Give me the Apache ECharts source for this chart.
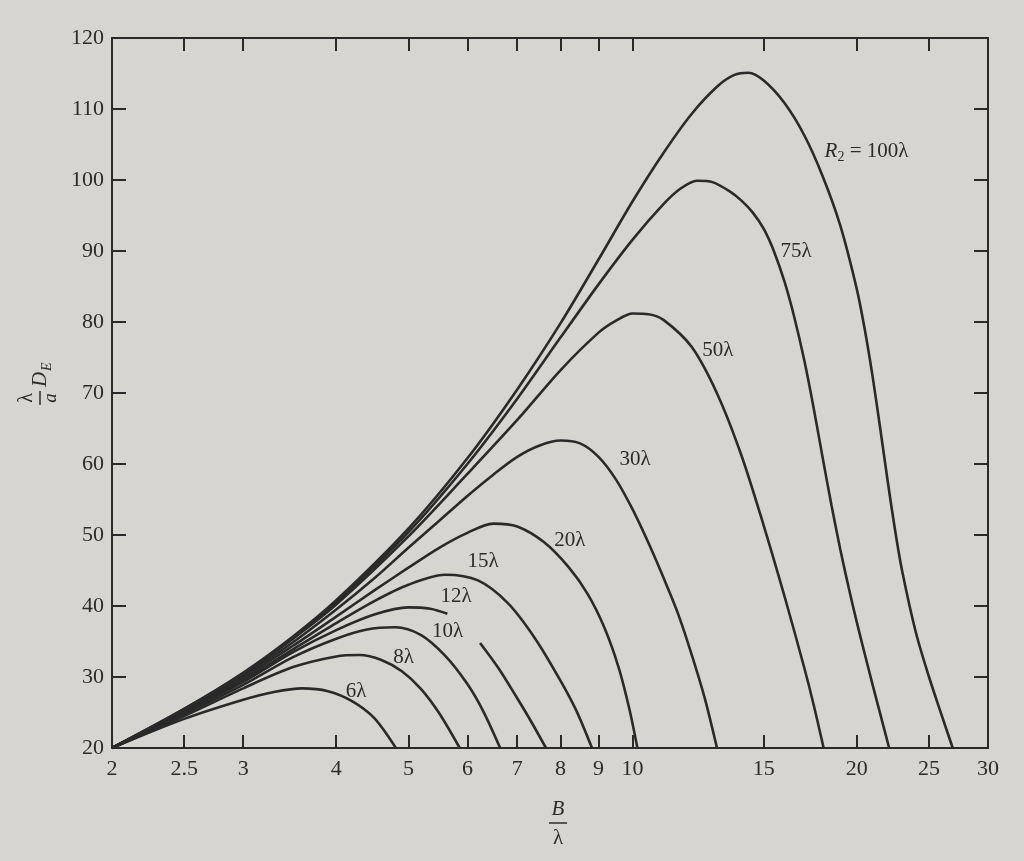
<!DOCTYPE html>
<html>
<head>
<meta charset="utf-8">
<script src="https://cdn.jsdelivr.net/npm/echarts@6/dist/echarts.min.js"></script>
<style>
  html, body { margin: 0; padding: 0; background: #d7d5d1; }
  #chart { width: 1024px; height: 861px; }
</style>
</head>
<body>
<div id="chart"></div>
<script>
// tick values on the B/lambda axis
var xTicks = [2, 2.5, 3, 4, 5, 6, 7, 8, 9, 10, 15, 20, 25, 30];

// curve names, one per R2
var curveNames = ['6λ', '8λ', '10λ', '12λ', '15λ', '20λ', '30λ', '50λ', '75λ', 'R2 = 100λ'];

// [B/λ, λ/a·D_E]
var r6 = [[2, 20], [2.5, 24.1], [3, 26.8], [3.3, 27.9], [3.6, 28.4], [3.9, 28.0], [4.2, 26.6], [4.5, 24.2], [4.81, 20]];
var r8 = [[2, 20], [2.5, 24.5], [3, 28.4], [3.5, 31.4], [4, 32.9], [4.3, 33.1], [4.6, 32.4], [4.9, 30.8], [5.2, 28.3], [5.5, 24.9], [5.86, 20]];
var r10 = [[2, 20], [2.5, 24.8], [3, 28.9], [3.5, 32.8], [4, 35.4], [4.4, 36.7], [4.8, 37.0], [5.2, 35.9], [5.6, 33.0], [6.0, 29.0], [6.3, 25.2], [6.64, 20]];
var r12 = [[2, 20], [2.5, 25.0], [3, 29.3], [3.5, 33.5], [4, 36.6], [4.5, 38.8], [5.0, 39.8], [5.35, 39.6], [5.64, 38.9], [5.95, '-'], [6.24, 34.8], [6.6, 31.3], [7.0, 27.0], [7.3, 23.8], [7.65, 20]];
var r15 = [[2, 20], [2.5, 25.1], [3, 29.6], [3.5, 33.9], [4, 37.6], [4.5, 40.7], [5, 43.0], [5.6, 44.4], [6.2, 43.6], [6.8, 40.4], [7.4, 35.4], [8.0, 29.5], [8.4, 25.3], [8.82, 20]];
var r20 = [[2, 20], [2.5, 25.2], [3, 29.9], [3.5, 34.4], [4, 38.5], [4.5, 42.2], [5, 45.4], [5.5, 48.2], [6, 50.3], [6.5, 51.6], [7, 51.2], [7.6, 49.0], [8.2, 45.5], [8.7, 41.7], [9.16, 37.0], [9.58, 31.3], [9.9, 25.5], [10.15, 20]];
var r30 = [[2, 20], [2.5, 25.3], [3, 30.2], [3.5, 34.9], [4, 39.5], [4.5, 43.9], [5, 48.2], [5.5, 52.0], [6, 55.5], [6.5, 58.5], [7, 61.0], [7.5, 62.6], [8, 63.3], [8.5, 62.9], [9, 61.0], [9.5, 57.8], [10, 53.6], [10.5, 48.9], [11, 44.0], [11.5, 39.0], [12, 33.2], [12.5, 27.0], [12.98, 20]];
var r50 = [[2, 20], [2.5, 25.4], [3, 30.4], [3.5, 35.4], [4, 40.2], [5, 49.8], [6, 58.6], [7, 66.2], [8, 73.2], [9, 78.5], [9.5, 80.2], [10, 81.2], [10.5, 81.1], [11, 80.3], [12, 76.5], [13, 69.8], [14, 61.2], [15, 51.3], [16, 41.3], [17, 31.3], [17.5, 26.1], [18.05, 20]];
var r75 = [[2, 20], [2.5, 25.5], [3, 30.5], [3.5, 35.5], [4, 40.5], [5, 50.4], [6, 60.0], [7, 69.2], [8, 77.8], [9, 85.3], [10, 91.6], [11, 96.6], [11.6, 98.8], [12.2, 99.9], [12.8, 99.7], [13.5, 98.4], [14, 97.1], [14.5, 95.4], [15, 93.1], [15.5, 89.8], [16, 85.6], [16.5, 80.5], [17, 74.6], [17.5, 67.9], [18, 60.8], [18.5, 54.1], [19, 48.0], [19.5, 42.6], [20, 37.7], [20.5, 33.2], [21, 28.9], [21.5, 24.8], [22.1, 20]];
var r100 = [[2, 20], [2.5, 25.5], [3, 30.6], [3.5, 35.7], [4, 40.8], [5, 50.9], [6, 60.8], [7, 70.5], [8, 79.8], [9, 88.8], [10, 97.0], [11, 103.8], [12, 109.3], [13, 113.2], [13.7, 114.8], [14.3, 115.1], [15, 114.0], [16, 110.8], [17, 106.3], [18, 100.5], [19, 93.6], [20, 84.6], [20.5, 78.9], [21, 72.3], [21.5, 65.0], [22, 57.6], [22.5, 50.8], [23, 45.0], [24, 36.3], [25, 30.0], [26, 24.6], [26.9, 20]];

var curves = [r6, r8, r10, r12, r15, r20, r30, r50, r75, r100];

// where each curve's name sits (data coords, left edge of text)
var labelAt = [[4.12, 28.0], [4.77, 32.7], [5.38, 36.4], [5.52, 41.3], [6.0, 46.2], [7.85, 49.2], [9.6, 60.7], [12.4, 76.0], [15.8, 90.0], [18.1, 104.0]];

var ink = '#2a2a2a';
var serif = 'Liberation Serif';

var chart = echarts.init(document.getElementById('chart'));

function axisX(pos, showLabel) {
    return {
        type: 'log',
        logBase: 10,
        min: 2,
        max: 30,
        position: pos,
        axisLine: { show: true, onZero: false, lineStyle: { color: ink, width: 2 } },
        axisTick: { show: true, inside: true, length: 13, customValues: xTicks, lineStyle: { color: ink, width: 2 } },
        axisLabel: {
            show: showLabel, customValues: xTicks, margin: 10,
            color: '#2b2b2b', fontFamily: serif, fontSize: 22
        },
        splitLine: { show: false },
        minorTick: { show: false }
    };
}

function axisY(pos, showLabel) {
    return {
        type: 'value',
        min: 20,
        max: 120,
        interval: 10,
        position: pos,
        axisLine: { show: true, onZero: false, lineStyle: { color: ink, width: 2 } },
        axisTick: { show: true, inside: true, length: 14, lineStyle: { color: ink, width: 2 } },
        axisLabel: { show: showLabel, margin: 8, color: '#2b2b2b', fontFamily: serif, fontSize: 22 },
        splitLine: { show: false }
    };
}

var series = curves.map(function (d, i) {
    var isTop = i === curves.length - 1;
    return {
        name: curveNames[i],
        type: 'line',
        data: d,
        smooth: 0.3,
        showSymbol: false,
        connectNulls: false,
        clip: true,
        lineStyle: { color: ink, width: 2.6 },
        markPoint: {
            symbol: 'circle',
            symbolSize: 0,
            silent: true,
            data: [{ coord: labelAt[i] }],
            label: {
                show: true,
                position: 'right',
                distance: 0,
                color: '#2b2b2b',
                fontFamily: serif,
                fontSize: 21,
                formatter: isTop ? '{i|R}{s|2}{t| = 100λ}' : curveNames[i],
                rich: {
                    i: { fontFamily: serif, fontSize: 21, fontStyle: 'italic', color: '#2b2b2b' },
                    s: { fontFamily: serif, fontSize: 14, color: '#2b2b2b', padding: [12, 0, 0, 0] },
                    t: { fontFamily: serif, fontSize: 21, color: '#2b2b2b' }
                }
            }
        }
    };
});

var option = {
    backgroundColor: '#d7d5d1',
    animation: false,
    grid: { left: 112, right: 36, top: 38, bottom: 113 },
    xAxis: [axisX('bottom', true), axisX('top', false)],
    yAxis: [axisY('left', true), axisY('right', false)],
    series: series,
    graphic: [
        {
            // y axis title: λ/a D_E, reading upward
            type: 'group',
            x: 40,
            y: 398,
            rotation: Math.PI / 2,
            children: [
                { type: 'text', x: 0, y: -13, style: { text: 'λ', font: '20px "Liberation Serif"', fill: '#2b2b2b', align: 'center', verticalAlign: 'middle' } },
                { type: 'line', shape: { x1: -7, y1: 0, x2: 7, y2: 0 }, style: { stroke: '#2b2b2b', lineWidth: 1.5 } },
                { type: 'text', x: 0, y: 11, style: { text: 'a', font: 'italic 19px "Liberation Serif"', fill: '#2b2b2b', align: 'center', verticalAlign: 'middle' } },
                { type: 'text', x: 11, y: 0, style: { text: 'D', font: 'italic 21px "Liberation Serif"', fill: '#2b2b2b', align: 'left', verticalAlign: 'middle' } },
                { type: 'text', x: 27, y: 7, style: { text: 'E', font: 'italic 14px "Liberation Serif"', fill: '#2b2b2b', align: 'left', verticalAlign: 'middle' } }
            ]
        },
        {
            // x axis title: B/λ
            type: 'group',
            x: 558,
            y: 823,
            children: [
                { type: 'text', x: 0, y: -14, style: { text: 'B', font: 'italic 21px "Liberation Serif"', fill: '#2b2b2b', align: 'center', verticalAlign: 'middle' } },
                { type: 'line', shape: { x1: -9, y1: 0, x2: 9, y2: 0 }, style: { stroke: '#2b2b2b', lineWidth: 1.5 } },
                { type: 'text', x: 0, y: 15, style: { text: 'λ', font: '21px "Liberation Serif"', fill: '#2b2b2b', align: 'center', verticalAlign: 'middle' } }
            ]
        }
    ]
};

chart.setOption(option);
</script>
</body>
</html>
